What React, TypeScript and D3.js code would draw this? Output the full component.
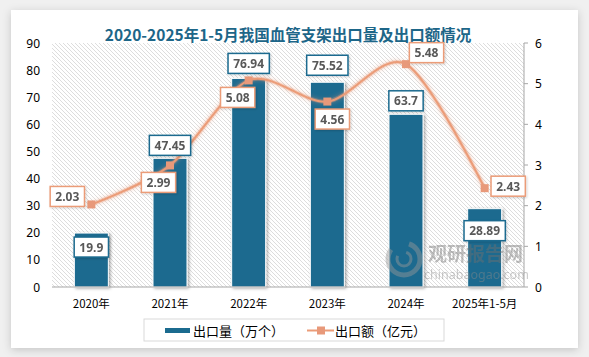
import React from "react";
import * as d3 from "d3";

const categories = ["2020年", "2021年", "2022年", "2023年", "2024年", "2025年1-5月"];
const volume = [19.9, 47.45, 76.94, 75.52, 63.7, 28.89];
const amount = [2.03, 2.99, 5.08, 4.56, 5.48, 2.43];
const leftTicks = [0, 10, 20, 30, 40, 50, 60, 70, 80, 90];
const rightTicks = [0, 1, 2, 3, 4, 5, 6];
const title = "2020-2025年1-5月我国血管支架出口量及出口额情况";
const legendNames = ["出口量（万个）", "出口额（亿元）"];

// label placement offsets (layout, not data)
const barLabelDy = [14, -13, -15, -17, -13.5, 22];
const lineLabelOffset: [number, number][] = [
  [-24, -8],
  [-11.5, 17],
  [-11, 17],
  [5, 17.5],
  [20.5, -11.5],
  [23.5, -2],
];

const W = 589;
const H = 357;
const BAR = "#1b6b8f";
const LINE = "#eb9c78";
const LINEDARK = "#e8997a";
const NUMFONT = "'Noto Sans', 'DejaVu Sans', sans-serif";
const CJK = "'Noto Sans CJK SC', 'Noto Sans', sans-serif";

function textW(s: string) {
  let w = 0;
  for (const c of s) w += c === "." ? 3.3 : 7;
  return w;
}

function LabelBox({ cx, cy, text, stroke }: { cx: number; cy: number; text: string; stroke: string }) {
  const w = textW(text) + 10;
  const h = 20;
  return (
    <g filter="url(#lblShadow)">
      <rect x={cx - w / 2} y={cy - h / 2} width={w} height={h} fill="#fff" stroke={stroke} strokeWidth={1.5} />
      <text
        x={cx}
        y={cy}
        textAnchor="middle"
        dominantBaseline="central"
        fontFamily={NUMFONT}
        fontWeight="bold"
        fontSize={12}
        fill="#595959"
      >
        {text}
      </text>
    </g>
  );
}

export default function App() {
  const left = 52;
  const right = 524;
  const top = 43;
  const bottom = 287;

  const band = d3.scaleBand<string>().domain(categories).range([left, right]);
  const yL = d3.scaleLinear().domain([0, 90]).range([bottom, top]);
  const yR = d3.scaleLinear().domain([0, 6]).range([bottom, top]);
  const cx = (c: string) => (band(c) as number) + band.bandwidth() / 2;
  const bw = 34;

  const pts: [number, number][] = categories.map((c, i) => [cx(c), yR(amount[i])]);
  const lineGen = d3.line().curve(d3.curveCardinal.tension(0.1));
  const path = lineGen(pts) || "";

  return (
    <svg width={W} height={H} style={{ position: "absolute", left: 0, top: 0 }}>
      <defs>
        <pattern id="hatch" patternUnits="userSpaceOnUse" width={4} height={4}>
          <rect width={4} height={4} fill="#ffffff" />
          <path d="M-1,-1 L5,5 M-1,3 L1,5 M3,-1 L5,1" stroke="#d4d4d4" strokeWidth={0.8} />
        </pattern>
        <filter id="panelShadow" x="-5%" y="-5%" width="110%" height="115%">
          <feDropShadow dx={0} dy={2} stdDeviation={4} floodColor="#000" floodOpacity={0.18} />
        </filter>
        <filter id="barShadow" x="-20%" y="-10%" width="150%" height="120%">
          <feDropShadow dx={1.5} dy={1} stdDeviation={1.5} floodColor="#000" floodOpacity={0.35} />
        </filter>
        <filter id="lblShadow" x="-20%" y="-30%" width="150%" height="170%">
          <feDropShadow dx={1} dy={1} stdDeviation={1} floodColor="#000" floodOpacity={0.18} />
        </filter>
        <filter id="glow" x="-10%" y="-20%" width="120%" height="140%">
          <feGaussianBlur stdDeviation={2} result="b" />
          <feMerge>
            <feMergeNode in="b" />
            <feMergeNode in="SourceGraphic" />
          </feMerge>
        </filter>
      </defs>

      <rect x={0} y={0} width={W} height={H} fill="#f0f0f0" />
      <rect x={11} y={10} width={567} height={338} fill="#ffffff" filter="url(#panelShadow)" />

      <text
        x={288}
        y={34}
        textAnchor="middle"
        dominantBaseline="central"
        fontFamily={CJK}
        fontWeight="bold"
        fontSize={15.5}
        fill="#1d6688"
      >
        {title}
      </text>

      {/* plot area */}
      <rect x={left} y={top} width={right - left} height={bottom - top} fill="url(#hatch)" />

      {/* left ticks */}
      {leftTicks.map((t) => (
        <text key={"l" + t} x={40} y={yL(t)} textAnchor="end" dominantBaseline="central" fontFamily={NUMFONT} fontSize={12} fill="#000">
          {t}
        </text>
      ))}
      {/* right axis */}
      <line x1={right} x2={right} y1={top} y2={bottom} stroke="#a6a6a6" strokeWidth={1} />
      {rightTicks.map((t) => (
        <g key={"r" + t}>
          <line x1={right} x2={right + 4} y1={yR(t)} y2={yR(t)} stroke="#a6a6a6" />
          <text x={535} y={yR(t)} textAnchor="start" dominantBaseline="central" fontFamily={NUMFONT} fontSize={12} fill="#000">
            {t}
          </text>
        </g>
      ))}

      {/* bars */}
      {categories.map((c, i) => (
        <rect
          key={"b" + c}
          x={cx(c) - bw / 2}
          y={yL(volume[i])}
          width={bw}
          height={bottom - yL(volume[i])}
          fill={BAR}
          stroke="#ffffff"
          strokeWidth={1}
          filter="url(#barShadow)"
        />
      ))}

      <line x1={left} x2={right} y1={bottom} y2={bottom} stroke="#a6a6a6" strokeWidth={1} />

      {/* x labels */}
      {categories.map((c) => (
        <text key={"x" + c} x={cx(c)} y={303} textAnchor="middle" dominantBaseline="central" fontFamily={CJK} fontSize={11.5} fill="#000">
          {c}
        </text>
      ))}

      {/* watermark */}
      <g opacity={0.45}>
        <circle cx={404} cy={259} r={16} fill="none" stroke="#9a9a9a" strokeWidth={5} strokeDasharray="60 20" />
        <circle cx={404} cy={259} r={7} fill="none" stroke="#9a9a9a" strokeWidth={3} strokeDasharray="25 10" />
        <text x={428} y={252} fontFamily={CJK} fontWeight="bold" fontSize={19} fill="#707070" dominantBaseline="central">
          观研报告网
        </text>
        <text x={424} y={274} fontFamily={NUMFONT} fontSize={12.5} fill="#8a8a8a" dominantBaseline="central">
          chinabaogao.com
        </text>
      </g>

      {/* line */}
      <path d={path} fill="none" stroke={LINE} strokeOpacity={0.35} strokeWidth={4} filter="url(#glow)" />
      <path d={path} fill="none" stroke={LINE} strokeWidth={2} />
      {pts.map((p, i) => (
        <rect key={"m" + i} x={p[0] - 4} y={p[1] - 4} width={8} height={8} fill={LINEDARK} />
      ))}

      {/* bar labels */}
      {categories.map((c, i) => (
        <LabelBox key={"bl" + i} cx={cx(c)} cy={yL(volume[i]) + barLabelDy[i]} text={String(volume[i])} stroke={BAR} />
      ))}
      {/* line labels */}
      {pts.map((p, i) => (
        <LabelBox
          key={"ll" + i}
          cx={p[0] + lineLabelOffset[i][0]}
          cy={p[1] + lineLabelOffset[i][1]}
          text={String(amount[i])}
          stroke={LINE}
        />
      ))}

      {/* legend */}
      <rect x={144} y={319} width={300} height={22} fill="#fff" stroke="#d9d9d9" strokeWidth={1} />
      <rect x={165} y={328} width={25} height={5} fill={BAR} />
      <text x={193} y={330.5} dominantBaseline="central" fontFamily={CJK} fontSize={13} fill="#000">
        {legendNames[0]}
      </text>
      <line x1={307} x2={334} y1={330.5} y2={330.5} stroke={LINE} strokeWidth={2} />
      <rect x={317} y={326.5} width={8} height={8} fill={LINEDARK} />
      <text x={335} y={330.5} dominantBaseline="central" fontFamily={CJK} fontSize={13} fill="#000">
        {legendNames[1]}
      </text>
    </svg>
  );
}
